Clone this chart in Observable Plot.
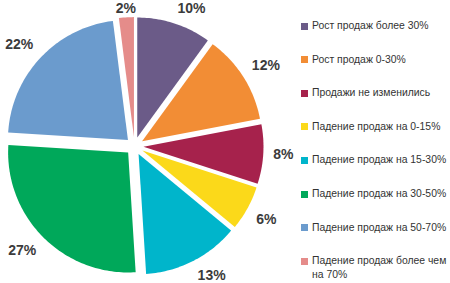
<!DOCTYPE html>
<html><head><meta charset="utf-8">
<script src="https://cdn.jsdelivr.net/npm/d3@7"></script>
<script src="https://cdn.jsdelivr.net/npm/@observablehq/plot@0.6"></script>
<style>
html,body{margin:0;padding:0;background:#fff;}
#wrap{position:relative;width:450px;height:283px;overflow:hidden;font-family:"Liberation Sans",Arial,sans-serif;}
#wrap svg{position:absolute;left:0;top:0;}
.leg{position:absolute;left:301px;width:149px;font-size:10.4px;color:#333;line-height:14px;}
.leg .sw{position:absolute;left:0;top:3.5px;width:7px;height:7px;}
.leg .tx{display:block;margin-left:11px;}
</style></head><body><div id="wrap"></div>
<script>
const categories = [
  "Рост продаж более 30%",
  "Рост продаж 0-30%",
  "Продажи не изменились",
  "Падение продаж на 0-15%",
  "Падение продаж на 15-30%",
  "Падение продаж на 30-50%",
  "Падение продаж на 50-70%",
  "Падение продаж более чем на 70%"
];
const values = [10, 12, 8, 6, 13, 27, 22, 2];
const valueLabels = ["10%", "12%", "8%", "6%", "13%", "27%", "22%", "2%"];
const colors = ["#6B5B88", "#F28D35", "#A6224C", "#FBD91A", "#00B5CB", "#00A85A", "#6B9BCD", "#E58C8A"];

// layout constants (pixels)
const CX = 134, CY = 145.6, R = 120, EXPLODE = 9, LABEL_R = 139, HALF_H = 6;

const arcs = d3.pie().sort(null).value(d => d)(values);
const slicePts = [];
const labelRows = [];
arcs.forEach((a, i) => {
  const mid = (a.startAngle + a.endAngle) / 2;
  const ox = CX + EXPLODE * Math.sin(mid), oy = CY - EXPLODE * Math.cos(mid);
  slicePts.push({name: categories[i], x: ox, y: oy});
  const n = Math.max(2, Math.ceil((a.endAngle - a.startAngle) / 0.02));
  for (let k = 0; k <= n; k++) {
    const t = a.startAngle + (a.endAngle - a.startAngle) * k / n;
    slicePts.push({name: categories[i], x: ox + R * Math.sin(t), y: oy - R * Math.cos(t)});
  }
  const s = Math.sin(mid), c = Math.cos(mid);
  const ax = CX + LABEL_R * s, ay = CY - LABEL_R * c;
  const anchor = s > 0.15 ? "start" : s < -0.15 ? "end" : "middle";
  let yc = c > 0.15 ? ay - HALF_H : c < -0.15 ? ay + HALF_H : ay;
  yc = Math.max(8, Math.min(276, yc));
  labelRows.push({label: valueLabels[i], x: ax, y: yc, anchor});
});

const textOpts = {x: "x", y: "y", text: "label", fontSize: 14, fontWeight: "bold", fill: "#3b3b3b", fontFamily: "Liberation Sans, Arial, sans-serif"};

const chart = Plot.plot({
  width: 450, height: 283,
  marginTop: 0, marginRight: 0, marginBottom: 0, marginLeft: 0,
  x: {domain: [0, 450], range: [0, 450], axis: null},
  y: {domain: [0, 283], range: [0, 283], axis: null},
  color: {domain: categories, range: colors},
  style: {background: "transparent"},
  marks: [
    Plot.line(slicePts, {x: "x", y: "y", z: "name", fill: "name", stroke: "none"}),
    Plot.text(labelRows.filter(d => d.anchor === "start"), {...textOpts, textAnchor: "start"}),
    Plot.text(labelRows.filter(d => d.anchor === "end"), {...textOpts, textAnchor: "end"}),
    Plot.text(labelRows.filter(d => d.anchor === "middle"), {...textOpts, textAnchor: "middle"})
  ]
});

const wrap = document.getElementById("wrap");
wrap.appendChild(chart);
const color = chart.scale("color");
categories.forEach((cat, i) => {
  const row = document.createElement("div");
  row.className = "leg";
  row.style.top = (26 + 33.6 * i - 7) + "px";
  const sw = document.createElement("span");
  sw.className = "sw";
  sw.style.background = color.apply(cat);
  const tx = document.createElement("span");
  tx.className = "tx";
  tx.textContent = cat;
  row.appendChild(sw); row.appendChild(tx);
  wrap.appendChild(row);
});
</script></body></html>
